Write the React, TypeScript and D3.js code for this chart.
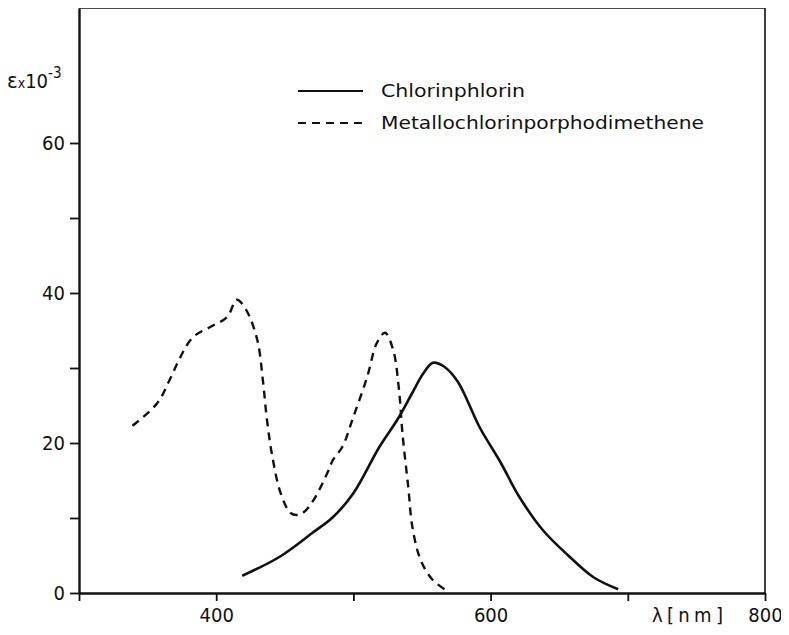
import { useEffect, useRef } from "react";
import * as d3 from "d3";

// Chlorinphlorin (solid) — wavelength nm / epsilon x 1e-3
const solidWl = [419, 446, 470, 485, 500, 519, 532, 543, 551, 558, 566, 576, 592, 607, 621, 638, 656, 675, 693];
const solidEps = [2.3, 4.8, 8.0, 10.1, 13.3, 19.5, 23.1, 26.7, 29.3, 30.7, 30.2, 28.2, 22.1, 17.5, 12.8, 8.4, 5.1, 2.1, 0.5];

// Metallochlorinporphodimethene (dashed)
const dashWl = [339, 357, 366, 374, 383, 396, 408, 415, 422, 430, 434, 437, 441, 447, 454, 459, 464, 471, 481, 485, 492, 500, 510, 517, 523, 529, 533, 536, 540, 543, 549, 558, 570];
const dashEps = [22.3, 25.3, 28.4, 31.5, 34.1, 35.5, 36.8, 39.1, 37.7, 33.7, 28.4, 23.1, 18.1, 13.3, 10.7, 10.4, 10.8, 12.4, 16.0, 17.7, 19.5, 23.5, 28.8, 33.3, 34.7, 32.4, 27.5, 20.8, 14.1, 8.8, 4.4, 1.7, 0.1];

const xTicks = [300, 400, 500, 600, 700, 800];
const xLabels = [400, 600, 800];
const yTicks = [0, 10, 20, 30, 40, 50, 60];
const yLabels = [0, 20, 40, 60];

const seriesNames = ["Chlorinphlorin", "Metallochlorinporphodimethene"];

const FONT = "'DejaVu Sans Condensed', 'Liberation Sans Narrow', 'DejaVu Sans', sans-serif";

export default function App() {
  const ref = useRef<SVGSVGElement>(null);

  useEffect(() => {
    const svg = d3.select(ref.current);
    svg.selectAll("*").remove();

    const left = 79, right = 765, top = 8, bottom = 593;

    const x = d3.scaleLinear().domain([300, 800]).range([left, right]);
    const y = d3.scaleLinear().domain([0, 78]).range([bottom, top]);

    // frame top + right
    svg.append("path")
      .attr("d", `M${left},${top}H${right}V${bottom}`)
      .attr("fill", "none")
      .attr("stroke", "#111")
      .attr("stroke-width", 1.6);

    // x axis
    const gx = svg.append("g")
      .attr("transform", `translate(0,${bottom})`)
      .call(d3.axisBottom(x).tickValues(xTicks).tickSize(8).tickSizeOuter(0)
        .tickFormat(d => (xLabels.includes(d as number) ? String(d) : "")));
    gx.select(".domain").attr("stroke", "#111").attr("stroke-width", 2.4);
    gx.selectAll(".tick line").attr("stroke", "#111").attr("stroke-width", 1.8);
    gx.selectAll(".tick text")
      .attr("y", 29).attr("dy", null)
      .attr("font-family", FONT).attr("font-size", 20).attr("fill", "#111");

    // y axis
    const gy = svg.append("g")
      .attr("transform", `translate(${left},0)`)
      .call(d3.axisLeft(y).tickValues(yTicks).tickSize(9).tickSizeOuter(0)
        .tickFormat(d => (yLabels.includes(d as number) ? String(d) : "")));
    gy.select(".domain").attr("stroke", "#111").attr("stroke-width", 2.4);
    gy.selectAll(".tick line").attr("stroke", "#111").attr("stroke-width", 1.8);
    gy.selectAll(".tick text")
      .attr("x", -14)
      .attr("font-family", FONT).attr("font-size", 20).attr("fill", "#111");

    // axis titles
    svg.append("text")
      .attr("x", 652).attr("y", 622)
      .attr("font-family", FONT).attr("font-size", 20).attr("fill", "#111")
      .attr("textLength", 71).attr("lengthAdjust", "spacing")
      .text("λ[nm]");

    const yl = svg.append("text")
      .attr("x", 7).attr("y", 88)
      .attr("font-family", FONT).attr("font-size", 22).attr("fill", "#111");
    yl.append("tspan").text("ε");
    yl.append("tspan").attr("font-size", 14).text("x");
    yl.append("tspan").attr("font-size", 20).text("10");
    yl.append("tspan").attr("dy", -10).attr("font-size", 15).text("-3");

    const line = d3.line<[number, number]>()
      .x(d => x(d[0]))
      .y(d => y(d[1]))
      .curve(d3.curveCatmullRom.alpha(0.5));

    const solid = solidWl.map((w, i) => [w, solidEps[i]] as [number, number]);
    const dashed = dashWl.map((w, i) => [w, dashEps[i]] as [number, number]);

    svg.append("path")
      .datum(solid)
      .attr("d", line)
      .attr("fill", "none")
      .attr("stroke", "#111")
      .attr("stroke-width", 2.6);

    svg.append("path")
      .datum(dashed)
      .attr("d", line)
      .attr("fill", "none")
      .attr("stroke", "#111")
      .attr("stroke-width", 2.4)
      .attr("stroke-dasharray", "8,6");

    // legend
    const legend = svg.append("g");
    const rows = [
      { y: 91, dash: null, len: 144 },
      { y: 123, dash: "8,6", len: 323 },
    ];
    rows.forEach((r, i) => {
      legend.append("line")
        .attr("x1", 298).attr("x2", 363)
        .attr("y1", r.y).attr("y2", r.y)
        .attr("stroke", "#111")
        .attr("stroke-width", i === 0 ? 1.8 : 2)
        .attr("stroke-dasharray", r.dash);
      legend.append("text")
        .attr("x", 381).attr("y", r.y + 6)
        .attr("font-family", FONT).attr("font-size", 18).attr("fill", "#111")
        .attr("textLength", r.len).attr("lengthAdjust", "spacingAndGlyphs")
        .text(seriesNames[i]);
    });
  }, []);

  return (
    <div style={{ margin: -8 }}>
      <svg ref={ref} width={789} height={635} style={{ display: "block" }} />
    </div>
  );
}
